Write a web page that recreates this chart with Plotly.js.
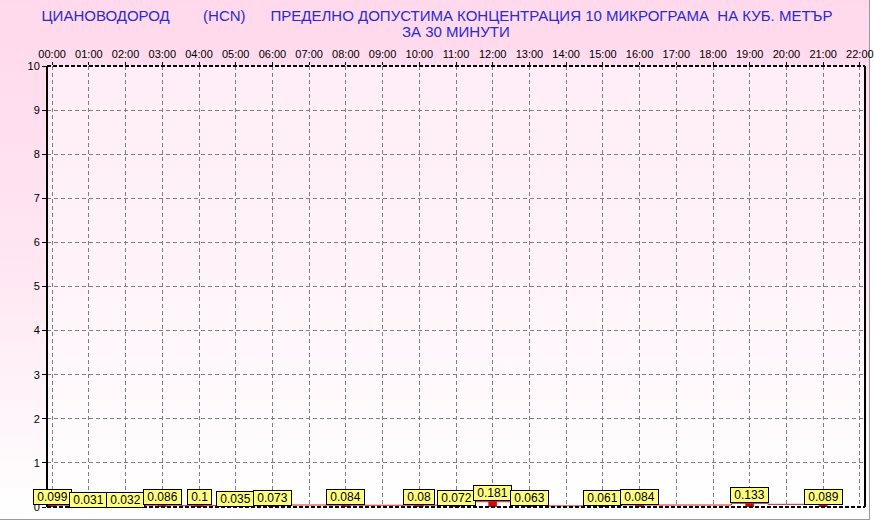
<!DOCTYPE html>
<html>
<head>
<meta charset="utf-8">
<script src="https://cdn.plot.ly/plotly-3.0.1.min.js"></script>
<style>
  html, body { margin: 0; padding: 0; background: #ffffff; }
  #wrap { position: relative; width: 874px; height: 529px; }
  #bg { position: absolute; left: 0; top: 0; width: 869px; height: 519px;
        background: linear-gradient(to bottom, #ffd8ec 0%, #ffe6f2 50%, #ffffff 100%);
        border-right: 1px solid #9a9a9a; border-bottom: 1px solid #9a9a9a; }
  #chart { position: absolute; left: 0; top: 0; width: 874px; height: 529px; }
</style>
</head>
<body>
<div id="wrap"><div id="bg"></div><div id="chart"></div></div>
<script>
// ---- data ----
var hourTicks = [0,1,2,3,4,5,6,7,8,9,10,11,12,13,14,15,16,17,18,19,20,21,22];
var hourLabels = ["00:00","01:00","02:00","03:00","04:00","05:00","06:00","07:00","08:00","09:00","10:00","11:00","12:00","13:00","14:00","15:00","16:00","17:00","18:00","19:00","20:00","21:00","22:00"];
var barHours  = [0, 1, 2, 3, 4, 5, 6, 8, 10, 11, 12, 13, 15, 16, 19, 21];
var barValues = [0.099, 0.031, 0.032, 0.086, 0.1, 0.035, 0.073, 0.084, 0.08, 0.072, 0.181, 0.063, 0.061, 0.084, 0.133, 0.089];
var lineHours  = [0,1,2,3,4,5,6,7,8,9,10,11,12,13,14,15,16,17,18,19,20,21];
var lineValues = [0.04,0.03,0.03,0.04,0.03,0.03,0.03,0.045,0.04,0.04,0.04,0.04,0.12,0.05,0.025,0.045,0.045,0.045,0.045,0.084,0.06,0.07];
var yTicks = [0,1,2,3,4,5,6,7,8,9,10];

var titleLine1 = "ЦИАНОВОДОРОД" + "\u00A0".repeat(8) + "(HCN)" + "\u00A0".repeat(6) +
  "ПРЕДЕЛНО ДОПУСТИМА КОНЦЕНТРАЦИЯ 10 МИКРОГРАМА\u00A0\u00A0НА КУБ. МЕТЪР";
var titleLine2 = "ЗА 30 МИНУТИ";

var FONT = "'Liberation Sans', Arial, sans-serif";

var traces = [
  {
    type: "scatter", mode: "lines", x: lineHours, y: lineValues,
    line: {color: "#d02020", width: 1, shape: "hvh"},
    hoverinfo: "skip", showlegend: false
  },
  {
    type: "bar", x: barHours, y: barValues, width: 0.22,
    marker: {color: "#dd0000", line: {color: "#880000", width: 0.5}},
    showlegend: false
  }
];

var annotations = barHours.map(function (h, i) {
  return {
    x: h, y: barValues[i], xref: "x", yref: "y",
    text: "\u00A0" + String(barValues[i]) + "\u00A0",
    showarrow: false, yanchor: "bottom", yshift: -2,
    bgcolor: "#ffff80", bordercolor: "#000000", borderwidth: 1, borderpad: 0,
    font: {family: FONT, size: 12, color: "#000000"}
  };
});
annotations.push({
  x: 0.5, xref: "paper", y: 32, yref: "paper", yanchor: "middle",
  text: titleLine2, showarrow: false,
  font: {family: FONT, size: 15, color: "#2a2ad6"}
});

var layout = {
  width: 874, height: 529,
  margin: {l: 47, r: 9, t: 66, b: 22, pad: 0},
  paper_bgcolor: "rgba(0,0,0,0)",
  plot_bgcolor: "rgba(255,255,255,0.5)",
  title: {
    text: titleLine1,
    font: {family: FONT, size: 15, color: "#2a2ad6"},
    x: 0.5, xanchor: "center", y: 1 - 16/529, yanchor: "middle", yref: "container"
  },
  bargap: 0,
  xaxis: {
    side: "top", range: [-0.14, 22.14],
    tickvals: hourTicks, ticktext: hourLabels,
    tickfont: {family: FONT, size: 11, color: "#000000"},
    ticks: "outside", ticklen: 3, tickcolor: "#000000",
    showgrid: true, gridcolor: "#808080", griddash: "4px,3px", gridwidth: 1,
    showline: false, zeroline: false, fixedrange: true
  },
  yaxis: {
    range: [0, 10], tickvals: yTicks,
    tickfont: {family: FONT, size: 11, color: "#000000"},
    ticks: "outside", ticklen: 4, tickcolor: "#000000",
    showgrid: true, gridcolor: "#808080", griddash: "4px,3px", gridwidth: 1,
    showline: false, zeroline: false, fixedrange: true
  },
  shapes: [
    {type: "line", xref: "paper", yref: "paper", x0: 0, x1: 0, y0: 0, y1: 1, line: {color: "#000000", width: 2}},
    {type: "line", xref: "paper", yref: "paper", x0: 1, x1: 1, y0: 0, y1: 1, line: {color: "#000000", width: 2}},
    {type: "line", xref: "paper", yref: "paper", x0: 0, x1: 1, y0: 1, y1: 1, line: {color: "#000000", width: 2, dash: "4px,2px"}},
    {type: "line", xref: "paper", yref: "paper", x0: 0, x1: 1, y0: 0, y1: 0, line: {color: "#000000", width: 2, dash: "4px,2px"}}
  ],
  annotations: annotations
};
// line 2 of title: place in paper coords from pixel position (y=32 px from top)
var plotH = 529 - 66 - 22;
annotations[annotations.length - 1].y = 1 + (66 - 32) / plotH;

Plotly.newPlot("chart", traces, layout, {displayModeBar: false, staticPlot: true});
</script>
</body>
</html>
